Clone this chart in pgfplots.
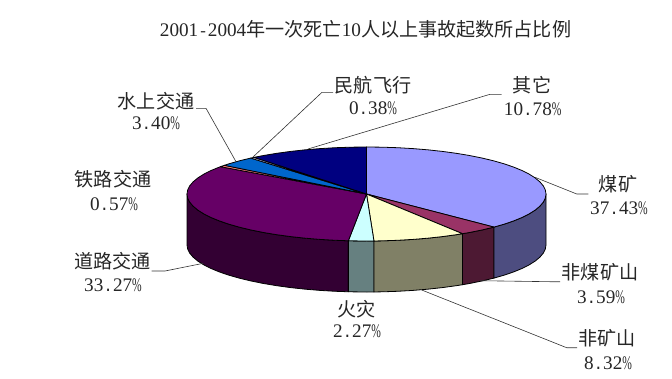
\documentclass[border=0pt]{standalone}
\usepackage{fontspec}
\setmainfont{Liberation Serif}
\newfontfamily\cjk{Noto Sans CJK SC}
\newfontfamily\mono{Liberation Mono}
\usepackage{pgfplots}
\pgfplotsset{compat=1.18}
\definecolor{txt}{gray}{0.15}
\newcommand\C[1]{{\cjk\fontsize{19.1}{20}\selectfont #1}}
\newcommand\m[1]{{\mono\fontsize{16}{18}\selectfont #1}}
\newcommand\pc{\scalebox{0.6}[1]{\%}}
\newcommand\dt{\m{.}}
\tikzset{
  slice/.style={draw=black,line width=0.8pt,line join=round},
  leader/.style={draw=black!80,line width=0.6pt},
  lab/.style={anchor=base,inner sep=0pt,outer sep=0pt,text=txt,font=\fontsize{19.2}{20}\selectfont}
}
\begin{document}
\begin{tikzpicture}
\begin{axis}[
  scale only axis,width=672pt,height=378pt,
  xmin=0,xmax=672,ymin=0,ymax=378,y dir=reverse,
  axis lines=none,clip=false,ticks=none]
\path (axis cs:0,0) rectangle (axis cs:672,378);
% ---- sides (煤矿 37.43, 非煤矿山 3.59, 非矿山 8.32, 火灾 2.27, 道路交通 33.27)
% 道路交通 side
\addplot[slice,mark=none,fill={rgb,255:red,51;green,0;blue,51}] coordinates {
(348.36,240.76)(335.33,240.29)(320.04,239.4)(305.11,238.17)(290.64,236.6)(276.75,234.7)(263.54,232.5)(251.12,230.0)(239.57,227.23)(229.0,224.21)(219.46,220.96)(211.05,217.5)(203.82,213.86)(197.82,210.07)(193.12,206.16)(189.73,202.16)(187.68,198.10)(187.0,194)
(187.0,245)(187.68,249.10)(189.73,253.16)(193.12,257.16)(197.82,261.07)(203.82,264.86)(211.05,268.5)(219.46,271.96)(229.0,275.21)(239.57,278.23)(251.12,281.0)(263.54,283.5)(276.75,285.7)(290.64,287.6)(305.11,289.17)(320.04,290.4)(335.33,291.29)(348.36,291.76)(348.36,240.76)} -- cycle;
% 火灾 side
\addplot[slice,mark=none,fill={rgb,255:red,102;green,128;blue,128}] coordinates {
(373.95,240.96)(366.5,241)(350.85,240.82)(348.36,240.76)(348.36,291.76)(350.85,291.82)(366.5,292)(373.95,291.96)(373.95,240.96)} -- cycle;
% 非矿山 side
\addplot[slice,mark=none,fill={rgb,255:red,128;green,128;blue,102}] coordinates {
(462.5,233.7)(456.25,234.7)(442.36,236.6)(427.89,238.17)(412.96,239.4)(397.67,240.29)(382.15,240.82)(373.95,240.96)
(373.95,291.96)(382.15,291.82)(397.67,291.29)(412.96,290.4)(427.89,289.17)(442.36,287.6)(456.25,285.7)(462.5,284.7)(462.5,233.7)} -- cycle;
% 非煤矿山 side
\addplot[slice,mark=none,fill={rgb,255:red,77;green,25;blue,51}] coordinates {
(494.0,227.08)(493.43,227.23)(481.88,230.0)(469.46,232.5)(462.5,233.7)(462.5,284.7)(469.46,283.5)(481.88,281.0)(493.43,278.23)(494.0,278.08)(494.0,227.08)} -- cycle;
% 煤矿 side
\addplot[slice,mark=none,fill={rgb,255:red,77;green,77;blue,128}] coordinates {
(546,194)(545.32,198.10)(543.27,202.16)(539.88,206.16)(535.18,210.07)(529.18,213.86)(521.95,217.5)(513.54,220.96)(504.0,224.21)(494.0,227.08)
(494.0,278.08)(504.0,275.21)(513.54,271.96)(521.95,268.5)(529.18,264.86)(535.18,261.07)(539.88,257.16)(543.27,253.16)(545.32,249.10)(546,245)(546,194)} -- cycle;
% ---- top wedges
% 煤矿 37.43%
\addplot[slice,mark=none,fill={rgb,255:red,153;green,153;blue,255}] coordinates {
(366.5,194)(366.5,147)(382.15,147.18)(397.67,147.71)(412.96,148.6)(427.89,149.83)(442.36,151.40)(456.25,153.30)(469.46,155.50)(481.88,158.00)(493.43,160.77)(504.0,163.79)(513.54,167.04)(521.95,170.5)(529.18,174.14)(535.18,177.93)(539.88,181.84)(543.27,185.84)(545.32,189.90)(546.0,194)(545.32,198.10)(543.27,202.16)(539.88,206.16)(535.18,210.07)(529.18,213.86)(521.95,217.5)(513.54,220.96)(504.0,224.21)(494.0,227.08)(366.5,194)} -- cycle;
% 非煤矿山 3.59%
\addplot[slice,mark=none,fill={rgb,255:red,153;green,51;blue,102}] coordinates {
(366.5,194)(494.0,227.08)(493.43,227.23)(481.88,230.0)(469.46,232.5)(462.5,233.7)(366.5,194)} -- cycle;
% 非矿山 8.32%
\addplot[slice,mark=none,fill={rgb,255:red,255;green,255;blue,204}] coordinates {
(366.5,194)(462.5,233.7)(456.25,234.7)(442.36,236.6)(427.89,238.17)(412.96,239.4)(397.67,240.29)(382.15,240.82)(373.95,240.96)(366.5,194)} -- cycle;
% 火灾 2.27%
\addplot[slice,mark=none,fill={rgb,255:red,204;green,255;blue,255}] coordinates {
(366.5,194)(373.95,240.96)(366.5,241)(350.85,240.82)(348.36,240.76)(366.5,194)} -- cycle;
% 道路交通 33.27%
\addplot[slice,mark=none,fill={rgb,255:red,102;green,0;blue,102}] coordinates {
(366.5,194)(348.36,240.76)(335.33,240.29)(320.04,239.4)(305.11,238.17)(290.64,236.6)(276.75,234.7)(263.54,232.5)(251.12,230.0)(239.57,227.23)(229.0,224.21)(219.46,220.96)(211.05,217.5)(203.82,213.86)(197.82,210.07)(193.12,206.16)(189.73,202.16)(187.68,198.10)(187.0,194)(187.68,189.9)(189.73,185.84)(193.12,181.84)(197.82,177.93)(203.82,174.14)(211.05,170.5)(219.46,167.04)(220.46,166.67)(366.5,194)} -- cycle;
% 铁路交通 0.57%
\addplot[slice,mark=none,fill={rgb,255:red,255;green,128;blue,128}] coordinates {
(366.5,194)(220.46,166.67)(224.3,165.33)(366.5,194)} -- cycle;
% 水上交通 3.40%
\addplot[slice,mark=none,fill={rgb,255:red,0;green,102;blue,204}] coordinates {
(366.5,194)(224.3,165.33)(229.0,163.79)(239.57,160.77)(250.8,158.07)(366.5,194)} -- cycle;
% 民航飞行 0.38%
\addplot[slice,mark=none,fill={rgb,255:red,204;green,204;blue,255}] coordinates {
(366.5,194)(250.8,158.07)(254.0,157.37)(366.5,194)} -- cycle;
% 其它 10.78%
\addplot[slice,mark=none,fill={rgb,255:red,0;green,0;blue,128}] coordinates {
(366.5,194)(254.0,157.37)(263.54,155.5)(276.75,153.3)(290.64,151.4)(305.11,149.83)(320.04,148.6)(335.33,147.71)(350.85,147.18)(366.5,147)(366.5,194)} -- cycle;
% ---- leader lines
\addplot[leader,mark=none] coordinates {(196,108.3)(206,108.3)(236,161.7)};
\addplot[leader,mark=none] coordinates {(333,92.3)(322,92.3)(252.7,157.3)};
\addplot[leader,mark=none] coordinates {(501.7,94.3)(490,94.3)(308,149)};
\addplot[leader,mark=none] coordinates {(535,177.3)(576.7,194)(588.3,194)};
\addplot[leader,mark=none] coordinates {(480,280.7)(550,281.7)(560,281.7)};
\addplot[leader,mark=none] coordinates {(421.7,290)(566.7,347.7)(577,347.7)};
\addplot[leader,mark=none] coordinates {(151.7,271)(165,271)(203.3,263.3)};
% ---- texts
\node[lab] at (axis cs:365.5,36.5) {2001\m{-}2004\C{年一次死亡}10\C{人以上事故起数所占比例}};
\node[lab] at (axis cs:532,92.5) {\C{其它}};
\node[lab] at (axis cs:532.7,115.5) {10\dt 78\pc};
\node[lab] at (axis cs:373,92.5) {\C{民航飞行}};
\node[lab] at (axis cs:373,114.5) {0\dt 38\pc};
\node[lab] at (axis cs:156,108) {\C{水上交通}};
\node[lab] at (axis cs:156,129.5) {3\dt 40\pc};
\node[lab] at (axis cs:113,186.5) {\C{铁路交通}};
\node[lab] at (axis cs:114,210.5) {0\dt 57\pc};
\node[lab] at (axis cs:618,191.5) {\C{煤矿}};
\node[lab] at (axis cs:619,214) {37\dt 43\pc};
\node[lab] at (axis cs:112.7,268.5) {\C{道路交通}};
\node[lab] at (axis cs:113,291.5) {33\dt 27\pc};
\node[lab] at (axis cs:600,279.5) {\C{非煤矿山}};
\node[lab] at (axis cs:601,303.5) {3\dt 59\pc};
\node[lab] at (axis cs:606.7,345.5) {\C{非矿山}};
\node[lab] at (axis cs:608,369) {8\dt 32\pc};
\node[lab] at (axis cs:356.7,316.5) {\C{火灾}};
\node[lab] at (axis cs:357,337) {2\dt 27\pc};
\end{axis}
\end{tikzpicture}
\end{document}
